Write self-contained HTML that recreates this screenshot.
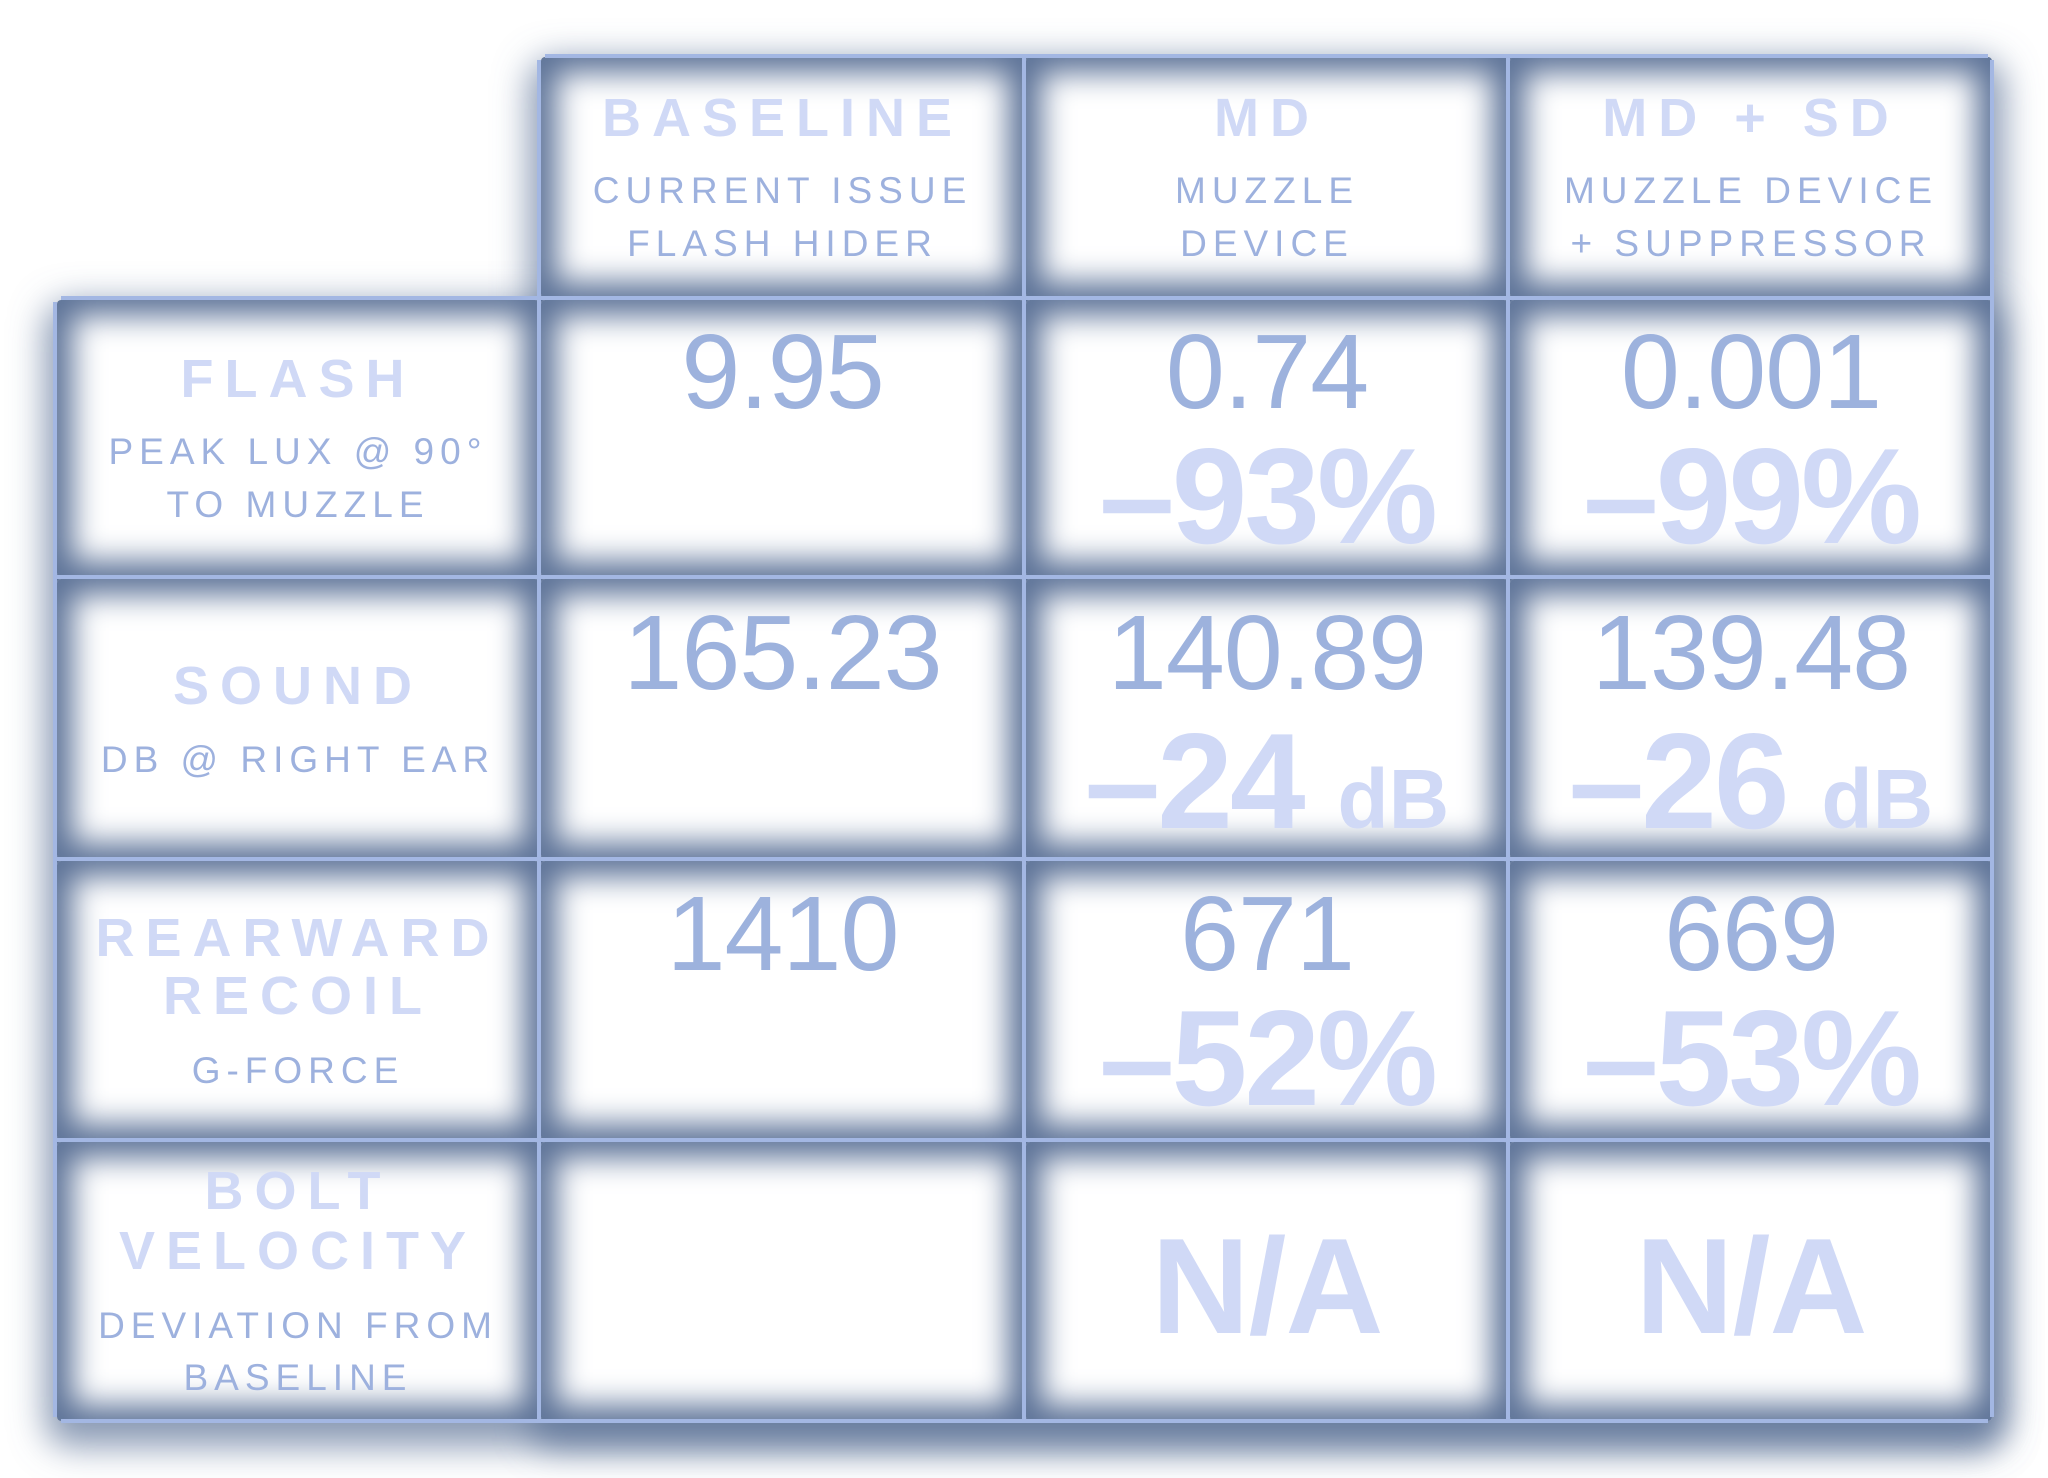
<!DOCTYPE html>
<html><head><meta charset="utf-8"><style>
html,body{margin:0;padding:0;background:#fff;}
body{width:2048px;height:1478px;position:relative;overflow:hidden;font-family:"Liberation Sans",sans-serif;}
.bg{position:absolute;box-shadow:0 14px 34px 10px rgba(90,112,150,0.7);border-radius:16px;background:#5d7398;}
.c{position:absolute;background:#fff;box-shadow:inset 0 0 30px 16px #5d7398;border-radius:4px;}
.hl{position:absolute;background:#a3b7e3;height:4px;}
.vl{position:absolute;background:#a3b7e3;width:4px;}
.t{position:absolute;text-align:center;white-space:nowrap;}
.lab{font-weight:bold;font-size:54px;letter-spacing:11px;color:#d0d9f6;}
.sub{font-size:37px;letter-spacing:6px;color:#9db1de;}
.num{font-size:106px;color:#9db2dd;letter-spacing:-1px;}
.pct{font-weight:bold;font-size:136px;color:#d0d9f6;letter-spacing:-3px;}
.pct small{font-size:84px;letter-spacing:0;}
.na{font-weight:bold;font-size:136px;color:#d0d9f6;letter-spacing:-1px;}
</style></head><body>
<div class="bg" style="left:539px;top:55px;width:1455px;height:1368px;"></div>
<div class="bg" style="left:55px;top:298px;width:1939px;height:1125px;"></div>

<div class="c" style="left:541px;top:57px;width:483px;height:241px;"></div>
<div class="c" style="left:1026px;top:57px;width:482px;height:241px;"></div>
<div class="c" style="left:1510px;top:57px;width:482px;height:241px;"></div>
<div class="c" style="left:57px;top:300px;width:482px;height:277px;"></div>
<div class="c" style="left:541px;top:300px;width:483px;height:277px;"></div>
<div class="c" style="left:1026px;top:300px;width:482px;height:277px;"></div>
<div class="c" style="left:1510px;top:300px;width:482px;height:277px;"></div>
<div class="c" style="left:57px;top:579px;width:482px;height:280px;"></div>
<div class="c" style="left:541px;top:579px;width:483px;height:280px;"></div>
<div class="c" style="left:1026px;top:579px;width:482px;height:280px;"></div>
<div class="c" style="left:1510px;top:579px;width:482px;height:280px;"></div>
<div class="c" style="left:57px;top:861px;width:482px;height:279px;"></div>
<div class="c" style="left:541px;top:861px;width:483px;height:279px;"></div>
<div class="c" style="left:1026px;top:861px;width:482px;height:279px;"></div>
<div class="c" style="left:1510px;top:861px;width:482px;height:279px;"></div>
<div class="c" style="left:57px;top:1142px;width:482px;height:279px;"></div>
<div class="c" style="left:541px;top:1142px;width:483px;height:279px;"></div>
<div class="c" style="left:1026px;top:1142px;width:482px;height:279px;"></div>
<div class="c" style="left:1510px;top:1142px;width:482px;height:279px;"></div>

<div class="hl" style="left:545px;top:54px;width:1443px;"></div>
<div class="hl" style="left:61px;top:296px;width:1933px;"></div>
<div class="hl" style="left:55px;top:575px;width:1939px;"></div>
<div class="hl" style="left:55px;top:857px;width:1939px;"></div>
<div class="hl" style="left:55px;top:1138px;width:1939px;"></div>
<div class="hl" style="left:61px;top:1419px;width:1927px;"></div>
<div class="vl" style="left:53px;top:302px;height:1115px;"></div>
<div class="vl" style="left:537px;top:60px;height:1363px;"></div>
<div class="vl" style="left:1022px;top:54px;height:1369px;"></div>
<div class="vl" style="left:1506px;top:54px;height:1369px;"></div>
<div class="vl" style="left:1990px;top:60px;height:1357px;"></div>

<div class="t lab" style="left:541px;width:483px;top:88px;line-height:60px;">BASELINE</div>
<div class="t sub" style="left:541px;width:483px;top:168px;line-height:46px;">CURRENT ISSUE</div>
<div class="t sub" style="left:541px;width:483px;top:221px;line-height:46px;">FLASH HIDER</div>
<div class="t lab" style="left:1026px;width:482px;top:88px;line-height:60px;">MD</div>
<div class="t sub" style="left:1026px;width:482px;top:168px;line-height:46px;">MUZZLE</div>
<div class="t sub" style="left:1026px;width:482px;top:221px;line-height:46px;">DEVICE</div>
<div class="t lab" style="left:1510px;width:482px;top:88px;line-height:60px;">MD + SD</div>
<div class="t sub" style="left:1510px;width:482px;top:168px;line-height:46px;">MUZZLE DEVICE</div>
<div class="t sub" style="left:1510px;width:482px;top:221px;line-height:46px;">+ SUPPRESSOR</div>

<div class="t lab" style="left:57px;width:482px;top:349px;line-height:60px;">FLASH</div>
<div class="t sub" style="left:57px;width:482px;top:429px;line-height:46px;">PEAK LUX @ 90°</div>
<div class="t sub" style="left:57px;width:482px;top:482px;line-height:46px;">TO MUZZLE</div>
<div class="t lab" style="left:57px;width:482px;top:656px;line-height:60px;">SOUND</div>
<div class="t sub" style="left:57px;width:482px;top:737px;line-height:46px;">DB @ RIGHT EAR</div>
<div class="t lab" style="left:57px;width:482px;top:908px;line-height:60px;">REARWARD</div>
<div class="t lab" style="left:57px;width:482px;top:966px;line-height:60px;">RECOIL</div>
<div class="t sub" style="left:57px;width:482px;top:1048px;line-height:46px;">G-FORCE</div>
<div class="t lab" style="left:57px;width:482px;top:1161px;line-height:60px;">BOLT</div>
<div class="t lab" style="left:57px;width:482px;top:1221px;line-height:60px;">VELOCITY</div>
<div class="t sub" style="left:57px;width:482px;top:1303px;line-height:46px;">DEVIATION FROM</div>
<div class="t sub" style="left:57px;width:482px;top:1355px;line-height:46px;">BASELINE</div>

<div class="t num" style="left:541px;width:483px;top:312px;line-height:120px;">9.95</div>
<div class="t num" style="left:1026px;width:482px;top:312px;line-height:120px;">0.74</div>
<div class="t num" style="left:1510px;width:482px;top:312px;line-height:120px;">0.001</div>
<div class="t pct" style="left:1026px;width:482px;top:426px;line-height:140px;">–93%</div>
<div class="t pct" style="left:1510px;width:482px;top:426px;line-height:140px;">–99%</div>

<div class="t num" style="left:541px;width:483px;top:593px;line-height:120px;">165.23</div>
<div class="t num" style="left:1026px;width:482px;top:593px;line-height:120px;">140.89</div>
<div class="t num" style="left:1510px;width:482px;top:593px;line-height:120px;">139.48</div>
<div class="t pct" style="left:1026px;width:482px;top:711px;line-height:140px;">–24 <small>dB</small></div>
<div class="t pct" style="left:1510px;width:482px;top:711px;line-height:140px;">–26 <small>dB</small></div>

<div class="t num" style="left:541px;width:483px;top:874px;line-height:120px;">1410</div>
<div class="t num" style="left:1026px;width:482px;top:874px;line-height:120px;">671</div>
<div class="t num" style="left:1510px;width:482px;top:874px;line-height:120px;">669</div>
<div class="t pct" style="left:1026px;width:482px;top:988px;line-height:140px;">–52%</div>
<div class="t pct" style="left:1510px;width:482px;top:988px;line-height:140px;">–53%</div>

<div class="t na" style="left:1026px;width:482px;top:1216px;line-height:140px;">N/A</div>
<div class="t na" style="left:1510px;width:482px;top:1216px;line-height:140px;">N/A</div>
</body></html>
